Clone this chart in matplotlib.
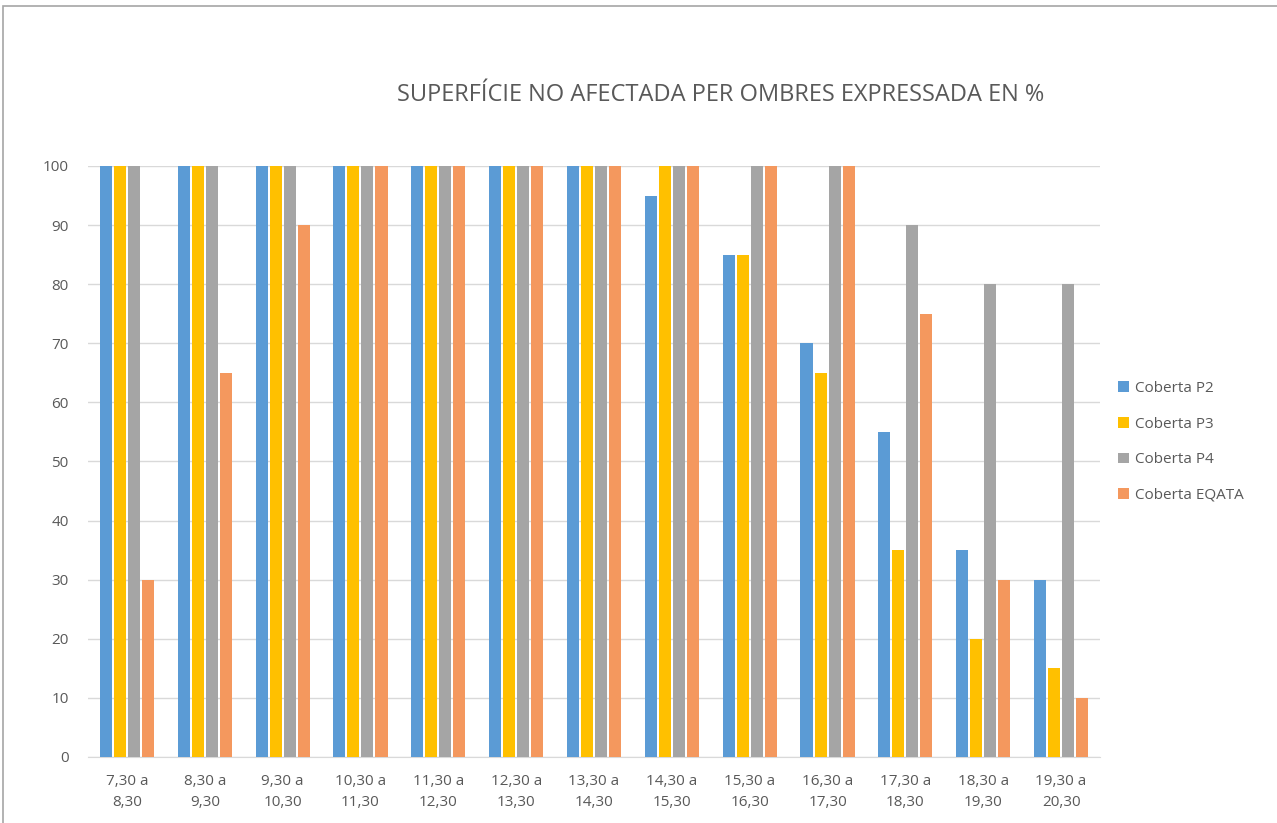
import matplotlib.pyplot as plt
import matplotlib.patches as mpatches
import numpy as np

# Data
franges = ['7,30 a\n8,30', '8,30 a\n9,30', '9,30 a\n10,30', '10,30 a\n11,30', '11,30 a\n12,30',
           '12,30 a\n13,30', '13,30 a\n14,30', '14,30 a\n15,30', '15,30 a\n16,30', '16,30 a\n17,30',
           '17,30 a\n18,30', '18,30 a\n19,30', '19,30 a\n20,30']
p2 = [100, 100, 100, 100, 100, 100, 100, 95, 85, 70, 55, 35, 30]
p3 = [100, 100, 100, 100, 100, 100, 100, 100, 85, 65, 35, 20, 15]
p4 = [100, 100, 100, 100, 100, 100, 100, 100, 100, 100, 90, 80, 80]
eqata = [30, 65, 90, 100, 100, 100, 100, 100, 100, 100, 75, 30, 10]

plt.rcParams['font.family'] = ['Open Sans', 'DejaVu Sans']

fig = plt.figure(figsize=(12.77, 8.23), dpi=100)
ax = fig.add_axes([0.0689, 0.0802, 0.7925, 0.7181])

# Outer chart border
fig.patches.append(mpatches.Rectangle((3 / 1277, -0.05), 1.1, 1 - 6 / 823 + 0.05, transform=fig.transFigure,
                                      fill=False, edgecolor='#A6A6A6', linewidth=1.2))

x = np.arange(len(franges))
slot = 0.18
w = 0.155
series = [(p2, 'Coberta P2', '#5B9BD5'),
          (p3, 'Coberta P3', '#FFC000'),
          (p4, 'Coberta P4', '#A5A5A5'),
          (eqata, 'Coberta EQATA', '#F4985E')]
for i, (vals, label, color) in enumerate(series):
    ax.bar(x + (i - 1.5) * slot, vals, width=w, color=color, label=label, zorder=3)

ax.set_xlim(-0.5, len(franges) - 0.5)
ax.set_ylim(0, 100)
ax.set_yticks(range(0, 101, 10))
ax.set_xticks(x)
ax.set_xticklabels(franges, linespacing=1.6)
ax.grid(axis='y', color='#D9D9D9', linewidth=1, zorder=0)
for s in ['top', 'right', 'left']:
    ax.spines[s].set_visible(False)
ax.spines['bottom'].set_color('#D9D9D9')
ax.tick_params(length=0, labelsize=11, colors='#595959', pad=12)
ax.tick_params(axis='y', pad=14)

fig.text(0.564, 0.884, 'SUPERFÍCIE NO AFECTADA PER OMBRES EXPRESSADA EN %', ha='center', va='center',
         fontsize=17, color='#595959')

ax.legend(loc='center left', bbox_to_anchor=(1.004, 0.533), frameon=False, fontsize=11,
          labelcolor='#595959', handlelength=0.7, handleheight=0.7, handletextpad=0.4, labelspacing=1.35)

fig.savefig('out.png', dpi=100)
